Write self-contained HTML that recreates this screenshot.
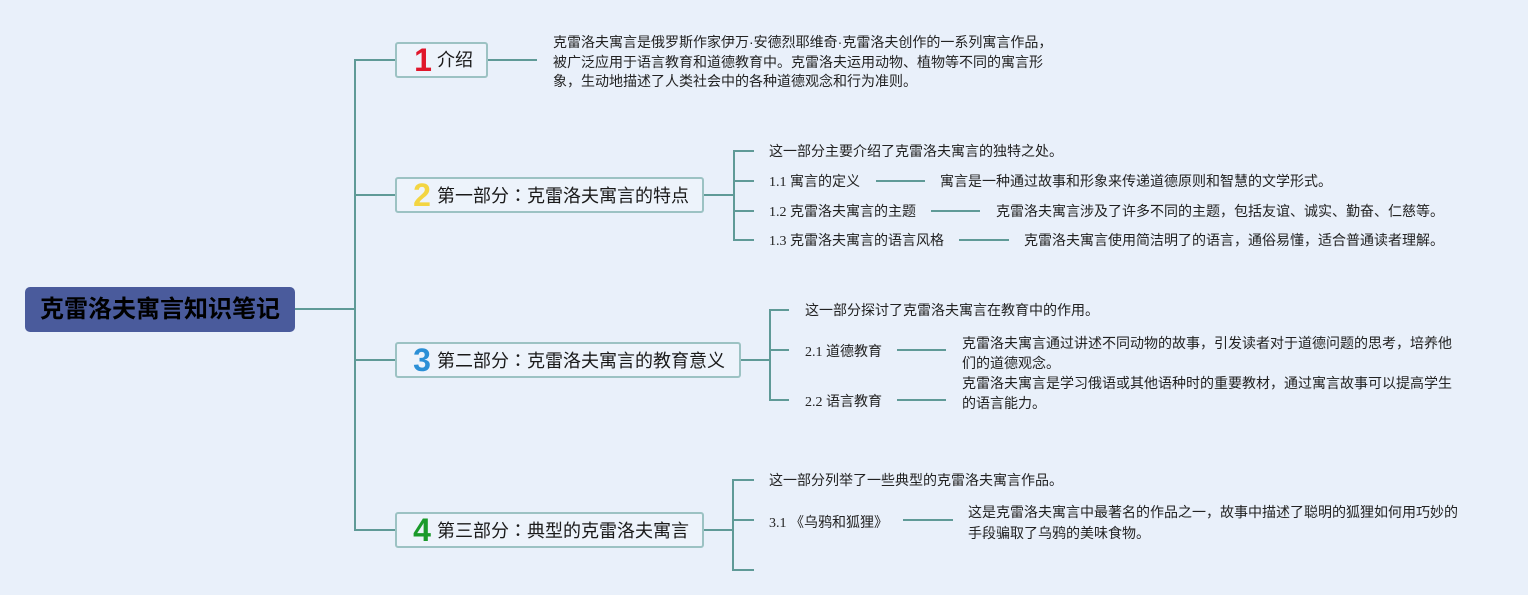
<!DOCTYPE html>
<html>
<head>
<meta charset="utf-8">
<style>
  html,body{margin:0;padding:0;}
  body{width:1528px;height:595px;background:#e9f0fa;position:relative;overflow:hidden;
       font-family:"Liberation Sans","Noto Sans CJK SC",sans-serif;color:#222;}
  .t{position:absolute;font-size:14px;line-height:20px;white-space:nowrap;}
  .n{font-family:"Liberation Serif","Noto Sans CJK SC",serif;}
  .box{position:absolute;box-sizing:border-box;border:2px solid #9cc2c3;background:#edf3fb;border-radius:3px;}
  .dig{position:absolute;width:40px;text-align:center;font-size:32px;font-weight:bold;line-height:36px;
       font-family:"Liberation Sans",sans-serif;}
  .ttl{position:absolute;font-size:18px;line-height:36px;white-space:nowrap;color:#1a1a1a;}
  .c{font-family:"Noto Sans CJK JP","Noto Sans CJK SC",sans-serif;}
  svg{position:absolute;left:0;top:0;}
</style>
</head>
<body>
<svg width="1528" height="595" viewBox="0 0 1528 595">
  <g fill="none" stroke="#5f9a97" stroke-width="2" stroke-linejoin="miter" stroke-linecap="butt">
    <path d="M295,309 H355"/>
    <path d="M395,60 H355 V530 H395"/>
    <path d="M355,195 H395"/>
    <path d="M355,360 H395"/>
    <path d="M488,60 H537"/>
    <!-- node 2 -->
    <path d="M704,195 H734"/>
    <path d="M754,151 H734 V240 H754"/>
    <path d="M734,181 H754"/>
    <path d="M734,211 H754"/>
    <path d="M876,181 H925"/>
    <path d="M931,211 H980"/>
    <path d="M959,240 H1009"/>
    <!-- node 3 -->
    <path d="M741,360 H770"/>
    <path d="M789,310 H770 V400 H789"/>
    <path d="M770,350 H789"/>
    <path d="M897,350 H946"/>
    <path d="M897,400 H946"/>
    <!-- node 4 -->
    <path d="M704,530 H733"/>
    <path d="M754,480 H733 V570 H754"/>
    <path d="M733,520 H754"/>
    <path d="M903,520 H953"/>
  </g>
</svg>

<!-- root -->
<div style="position:absolute;left:25px;top:287px;width:270px;height:45px;background:#4a5b9c;border-radius:5px;
            text-align:center;line-height:45px;font-size:24px;font-weight:bold;color:#000;white-space:nowrap;">克雷洛夫寓言知识笔记</div>

<!-- node 1 -->
<div class="box" style="left:395px;top:42px;width:93px;height:36px;"></div>
<div class="dig" style="left:403px;top:42px;color:#e0162b;">1</div>
<div class="ttl" style="left:437px;top:42px;">介绍</div>

<!-- node 2 -->
<div class="box" style="left:395px;top:177px;width:309px;height:36px;"></div>
<div class="dig" style="left:402px;top:177px;color:#f3d542;">2</div>
<div class="ttl" style="left:437px;top:177px;">第一部分<span class="c">：</span>克雷洛夫寓言的特点</div>

<!-- node 3 -->
<div class="box" style="left:395px;top:342px;width:346px;height:36px;"></div>
<div class="dig" style="left:402px;top:342px;color:#2b8fd6;">3</div>
<div class="ttl" style="left:437px;top:342px;">第二部分<span class="c">：</span>克雷洛夫寓言的教育意义</div>

<!-- node 4 -->
<div class="box" style="left:395px;top:512px;width:309px;height:36px;"></div>
<div class="dig" style="left:402px;top:512px;color:#1a9a2a;">4</div>
<div class="ttl" style="left:437px;top:512px;">第三部分<span class="c">：</span>典型的克雷洛夫寓言</div>

<!-- intro text -->
<div class="t" style="left:553px;top:33px;line-height:19.5px;">克雷洛夫寓言是俄罗斯作家伊万·安德烈耶维奇·克雷洛夫创作的一系列寓言作品，<br>被广泛应用于语言教育和道德教育中。克雷洛夫运用动物、植物等不同的寓言形<br>象，生动地描述了人类社会中的各种道德观念和行为准则。</div>

<!-- section 1 -->
<div class="t" style="left:769px;top:141px;">这一部分主要介绍了克雷洛夫寓言的独特之处。</div>
<div class="t" style="left:769px;top:171px;"><span class="n">1.1 </span>寓言的定义</div>
<div class="t" style="left:940px;top:171px;">寓言是一种通过故事和形象来传递道德原则和智慧的文学形式。</div>
<div class="t" style="left:769px;top:201px;"><span class="n">1.2 </span>克雷洛夫寓言的主题</div>
<div class="t" style="left:996px;top:201px;">克雷洛夫寓言涉及了许多不同的主题，包括友谊、诚实、勤奋、仁慈等。</div>
<div class="t" style="left:769px;top:230px;"><span class="n">1.3 </span>克雷洛夫寓言的语言风格</div>
<div class="t" style="left:1024px;top:230px;">克雷洛夫寓言使用简洁明了的语言，通俗易懂，适合普通读者理解。</div>

<!-- section 2 -->
<div class="t" style="left:805px;top:300px;">这一部分探讨了克雷洛夫寓言在教育中的作用。</div>
<div class="t" style="left:805px;top:341px;"><span class="n">2.1 </span>道德教育</div>
<div class="t" style="left:962px;top:333px;">克雷洛夫寓言通过讲述不同动物的故事，引发读者对于道德问题的思考，培养他<br>们的道德观念。</div>
<div class="t" style="left:805px;top:391px;"><span class="n">2.2 </span>语言教育</div>
<div class="t" style="left:962px;top:373px;">克雷洛夫寓言是学习俄语或其他语种时的重要教材，通过寓言故事可以提高学生<br>的语言能力。</div>

<!-- section 3 -->
<div class="t" style="left:769px;top:470px;">这一部分列举了一些典型的克雷洛夫寓言作品。</div>
<div class="t" style="left:769px;top:512px;"><span class="n">3.1 </span>《乌鸦和狐狸》</div>
<div class="t" style="left:968px;top:502px;line-height:21px;">这是克雷洛夫寓言中最著名的作品之一，故事中描述了聪明的狐狸如何用巧妙的<br>手段骗取了乌鸦的美味食物。</div>

</body>
</html>
